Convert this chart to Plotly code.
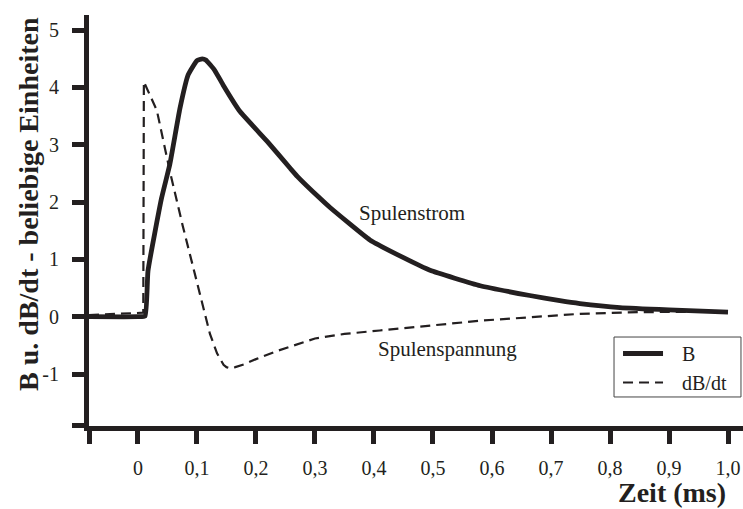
import plotly.graph_objects as go

# ---- data ----
t_B = [-0.083, 0.0, 0.012, 0.017, 0.04, 0.054, 0.071, 0.085, 0.1, 0.109, 0.115, 0.13, 0.144,
       0.173, 0.219, 0.258, 0.27, 0.308, 0.325, 0.393, 0.45, 0.495, 0.58, 0.664, 0.715,
       0.749, 0.817, 0.9, 1.0]
B = [0.0, 0.0, 0.01, 0.8, 2.07, 2.66, 3.63, 4.22, 4.47, 4.5, 4.48, 4.3, 4.05,
     3.58, 3.06, 2.59, 2.45, 2.07, 1.91, 1.34, 1.03, 0.81, 0.54, 0.37, 0.28,
     0.23, 0.16, 0.12, 0.08]

t_dB = [-0.083, 0.0, 0.009, 0.01, 0.032, 0.054, 0.076, 0.1, 0.122, 0.134, 0.145, 0.15,
        0.156, 0.165, 0.18, 0.2, 0.235, 0.3, 0.35, 0.41, 0.5, 0.58, 0.664, 0.749, 0.85, 1.0]
dB = [0.03, 0.06, 0.07, 4.1, 3.6, 2.54, 1.58, 0.6, -0.3, -0.64, -0.84, -0.88,
      -0.9, -0.88, -0.83, -0.74, -0.6, -0.38, -0.3, -0.24, -0.15, -0.07, -0.01, 0.05, 0.08, 0.09]

x_tickvals = [-0.083, 0, 0.1, 0.2, 0.3, 0.4, 0.5, 0.6, 0.7, 0.8, 0.9, 1.0]
x_ticktext = ["", "0", "0,1", "0,2", "0,3", "0,4", "0,5", "0,6", "0,7", "0,8", "0,9", "1,0"]
y_tickvals = [-1.9, -1, 0, 1, 2, 3, 4, 5]
y_ticktext = ["", "-1", "0", "1", "2", "3", "4", "5"]

INK = "#231f20"
FONT = "Liberation Serif"
NB = "\u00a0\u00a0\u2009"  # gap between legend sample and its text

fig = go.Figure()
fig.add_trace(go.Scatter(x=t_B, y=B, mode="lines", name=NB + "B",
                         line=dict(color=INK, width=4.8, shape="spline", smoothing=0.4)))
fig.add_trace(go.Scatter(x=t_dB, y=dB, mode="lines", name=NB + "dB/dt",
                         line=dict(color=INK, width=2.2, dash="10px,6px")))

fig.update_layout(
    width=743, height=509,
    margin=dict(l=89, r=0, t=15, b=83, autoexpand=False),
    paper_bgcolor="white", plot_bgcolor="white",
    font=dict(family=FONT, color=INK, size=20),
    xaxis=dict(range=[-0.083, 1.0254], showgrid=False, zeroline=False,
               showline=True, linewidth=5, linecolor=INK,
               ticks="outside", ticklen=13, tickwidth=5, tickcolor=INK,
               tickvals=x_tickvals, ticktext=x_ticktext, ticklabelstandoff=7,
               tickfont=dict(size=20, family=FONT, color=INK)),
    yaxis=dict(range=[-1.907, 5.265], showgrid=False, zeroline=False,
               showline=True, linewidth=5, linecolor=INK,
               ticks="outside", ticklen=12, tickwidth=5, tickcolor=INK,
               tickvals=y_tickvals, ticktext=y_ticktext, ticklabelstandoff=9,
               tickfont=dict(size=20, family=FONT, color=INK)),
    legend=dict(x=0.8089, y=0.2238, xanchor="left", yanchor="top",
                bgcolor="rgba(0,0,0,0)", borderwidth=0, itemwidth=40,
                font=dict(size=20, family=FONT, color=INK)),
    showlegend=True,
    shapes=[dict(type="rect", xref="paper", yref="paper",
                 x0=0.8028, x1=0.9969, y0=0.0706, y1=0.2165,
                 line=dict(color="#444", width=1), fillcolor="white", layer="below")],
)

fig.add_annotation(text="<b>B u. dB/dt - beliebige Einheiten</b>", xref="paper", yref="paper",
                   x=-0.0935, y=0.540, xanchor="center", yanchor="middle",
                   textangle=-90, showarrow=False,
                   font=dict(size=28, family=FONT, color=INK))
fig.add_annotation(text="<b>Zeit (ms)</b>", xref="paper", yref="paper",
                   x=0.8914, y=-0.1606, xanchor="center", yanchor="middle", showarrow=False,
                   font=dict(size=28, family=FONT, color=INK))
fig.add_annotation(text="Spulenstrom", x=0.464, y=1.81, showarrow=False,
                   font=dict(size=21, family=FONT, color=INK))
fig.add_annotation(text="Spulenspannung", x=0.524, y=-0.57, showarrow=False,
                   font=dict(size=21, family=FONT, color=INK))

# remove the default 8px page margin so the figure fills the window exactly
fig.write_html("out.html", config={"displayModeBar": False},
               post_script="document.body.style.margin='0';document.body.style.overflow='hidden';")
